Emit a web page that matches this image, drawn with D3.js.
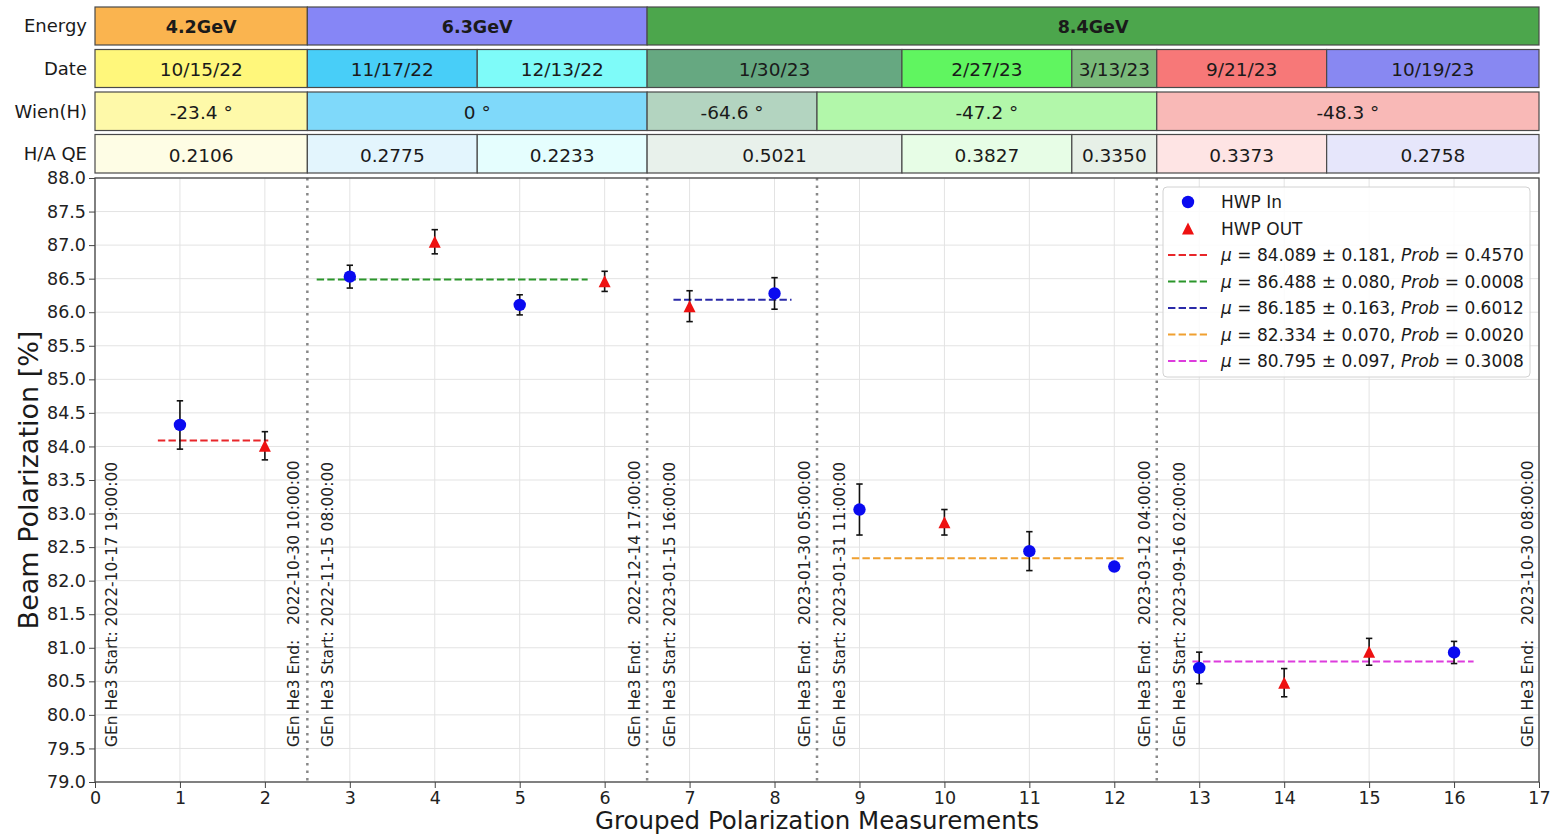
<!DOCTYPE html>
<html>
<head>
<meta charset="utf-8">
<script src="https://cdn.jsdelivr.net/npm/d3@7"></script>
<style>
  html, body { margin: 0; padding: 0; background: #ffffff; }
  svg { display: block; font-family: "DejaVu Sans", sans-serif; }
  .pre { white-space: pre; }
</style>
</head>
<body>
<svg id="chart" width="1552" height="836"></svg>
<script>
// ---------------- DATA ----------------
const groups      = [1, 2, 3, 4, 5, 6, 7, 8, 9, 10, 11, 12, 13, 14, 15, 16];
const hwpState    = ["In","Out","In","Out","In","Out","Out","In","In","Out","In","In","In","Out","Out","In"];
const polarization = [84.32, 84.01, 86.53, 87.05, 86.11, 86.46, 86.09, 86.28, 83.06, 82.87, 82.44, 82.21, 80.70, 80.48, 80.94, 80.93];
const polError     = [0.36, 0.21, 0.17, 0.18, 0.15, 0.15, 0.23, 0.235, 0.38, 0.19, 0.29, 0.05, 0.235, 0.21, 0.20, 0.165];

// fitted means per period
const fitMu     = [84.089, 86.488, 86.185, 82.334, 80.795];
const fitErr    = [0.181, 0.080, 0.163, 0.070, 0.097];
const fitProb   = [0.4570, 0.0008, 0.6012, 0.0020, 0.3008];
const fitFrom   = [0.74, 2.61, 6.81, 8.91, 12.92];
const fitTo     = [2.04, 5.80, 8.20, 12.11, 16.23];
const fitColors = ["#e8262a", "#2b962b", "#2a2aa8", "#f0a030", "#dd3cdd"];

// run period boundaries and annotations
const periodBoundaries = [2.5, 6.5, 8.5, 12.5];
const startLabels = ["GEn He3 Start: 2022-10-17 19:00:00", "GEn He3 Start: 2022-11-15 08:00:00",
                     "GEn He3 Start: 2023-01-15 16:00:00", "GEn He3 Start: 2023-01-31 11:00:00",
                     "GEn He3 Start: 2023-09-16 02:00:00"];
const startLabelX = [0.19, 2.74, 6.76, 8.76, 12.77];
const endLabels   = ["GEn He3 End:   2022-10-30 10:00:00", "GEn He3 End:   2022-12-14 17:00:00",
                     "GEn He3 End:   2023-01-30 05:00:00", "GEn He3 End:   2023-03-12 04:00:00",
                     "GEn He3 End:   2023-10-30 08:00:00"];
const endLabelX   = [2.34, 6.35, 8.35, 12.36, 16.86];

// table rows
const rowNames = ["Energy", "Date", "Wien(H)", "H/A QE"];
const energyText   = ["4.2GeV", "6.3GeV", "8.4GeV"];
const energyBounds = [0, 2.5, 6.5, 17];
const energyColors = ["#fab44f", "#8686f6", "#4ca64c"];
const dateText   = ["10/15/22", "11/17/22", "12/13/22", "1/30/23", "2/27/23", "3/13/23", "9/21/23", "10/19/23"];
const dateBounds = [0, 2.5, 4.5, 6.5, 9.5, 11.5, 12.5, 14.5, 17];
const dateColors = ["#fff77b", "#48cef8", "#7efbf9", "#66a881", "#60f560", "#7aba7a", "#f77878", "#8888f2"];
const wienText   = ["-23.4 \u00b0", "0 \u00b0", "-64.6 \u00b0", "-47.2 \u00b0", "-48.3 \u00b0"];
const wienBounds = [0, 2.5, 6.5, 8.5, 12.5, 17];
const wienColors = ["#fef9a9", "#7fd9fa", "#b3d4c0", "#b2f7aa", "#f9b9b7"];
const qeText   = ["0.2106", "0.2775", "0.2233", "0.5021", "0.3827", "0.3350", "0.3373", "0.2758"];
const qeBounds = dateBounds;
const qeColors = ["#fefde5", "#e3f5fd", "#e5fefe", "#e8f1eb", "#e7fde6", "#e7f0e7", "#fee4e4", "#e6e6fb"];

const yTicks = d3.range(79, 88.001, 0.5);
const xTicks = d3.range(0, 18, 1);

// ---------------- LAYOUT ----------------
const svg = d3.select("#chart");
const L = 95, R = 1539, T = 178, B = 782;
const x = d3.scaleLinear().domain([0, 17]).range([L, R]);
const y = d3.scaleLinear().domain([79, 88]).range([B, T]);

// ---------------- TABLE ----------------
const rowBands = [[7, 45], [49.5, 87.5], [92, 130.5], [134.5, 173]];
const tableRows = [
  {text: energyText, bounds: energyBounds, colors: energyColors, bold: true},
  {text: dateText, bounds: dateBounds, colors: dateColors},
  {text: wienText, bounds: wienBounds, colors: wienColors},
  {text: qeText, bounds: qeBounds, colors: qeColors}
];
const tableG = svg.append("g");
tableRows.forEach((row, ri) => {
  const [y0, y1] = rowBands[ri];
  const g = tableG.append("g");
  const cells = row.text.map((t, i) => ({t, a: row.bounds[i], b: row.bounds[i + 1], c: row.colors[i]}));
  g.selectAll("rect").data(cells).join("rect")
    .attr("x", d => x(d.a)).attr("y", y0)
    .attr("width", d => x(d.b) - x(d.a)).attr("height", y1 - y0)
    .attr("fill", d => d.c).attr("stroke", "#4a4a4a").attr("stroke-width", 1.2);
  g.selectAll("text").data(cells).join("text")
    .attr("x", d => (x(d.a) + x(d.b)) / 2).attr("y", (y0 + y1) / 2)
    .attr("dy", "0.42em").attr("text-anchor", "middle")
    .attr("font-size", row.bold ? 17.5 : 18.5).attr("font-weight", row.bold ? "bold" : "normal")
    .attr("fill", "#1a1a1a").text(d => d.t);
  g.append("text").attr("x", 87).attr("y", (y0 + y1) / 2).attr("dy", "0.36em")
    .attr("text-anchor", "end").attr("font-size", 18).attr("fill", "#1a1a1a")
    .text(rowNames[ri]);
});

// ---------------- GRID ----------------
const grid = svg.append("g");
grid.selectAll("line.gx").data(xTicks).join("line").attr("class", "gx")
  .attr("x1", d => x(d)).attr("x2", d => x(d)).attr("y1", T).attr("y2", B)
  .attr("stroke", "#e3e3e3").attr("stroke-width", 1);
grid.selectAll("line.gy").data(yTicks).join("line").attr("class", "gy")
  .attr("x1", L).attr("x2", R).attr("y1", d => y(d)).attr("y2", d => y(d))
  .attr("stroke", "#e3e3e3").attr("stroke-width", 1);

// period boundaries
svg.append("g").selectAll("line").data(periodBoundaries).join("line")
  .attr("x1", d => x(d)).attr("x2", d => x(d)).attr("y1", T).attr("y2", B)
  .attr("stroke", "#888").attr("stroke-width", 2.5).attr("stroke-dasharray", "2.5,5");

// rotated annotations
const annY = 747;
const ann = svg.append("g").attr("font-size", 15.5).attr("fill", "#222");
const annData = startLabels.map((t, i) => ({t, xv: startLabelX[i]}))
  .concat(endLabels.map((t, i) => ({t, xv: endLabelX[i]})));
ann.selectAll("text").data(annData).join("text")
  .attr("class", "pre")
  .attr("transform", d => `translate(${x(d.xv)},${annY}) rotate(-90)`)
  .attr("dy", "0.36em")
  .text(d => d.t);

// ---------------- AXES ----------------
const yAxis = svg.append("g").attr("transform", `translate(${L},0)`)
  .call(d3.axisLeft(y).tickValues(yTicks).tickFormat(d3.format(".1f")).tickSize(6).tickPadding(3));
const xAxis = svg.append("g").attr("transform", `translate(0,${B})`)
  .call(d3.axisBottom(x).tickValues(xTicks).tickFormat(d3.format("d")).tickSize(6).tickPadding(4));
[yAxis, xAxis].forEach(a => {
  a.selectAll("text").attr("font-size", 17.5).attr("fill", "#222").attr("font-family", "DejaVu Sans");
  a.selectAll("line").attr("stroke", "#444");
  a.select(".domain").remove();
});
// frame
svg.append("rect").attr("x", L).attr("y", T).attr("width", R - L).attr("height", B - T)
  .attr("fill", "none").attr("stroke", "#444").attr("stroke-width", 1.3);

svg.append("text").attr("x", (L + R) / 2).attr("y", 829).attr("text-anchor", "middle")
  .attr("font-size", 24.5).attr("fill", "#1a1a1a").text("Grouped Polarization Measurements");
svg.append("text").attr("transform", `translate(38,${(T + B) / 2}) rotate(-90)`)
  .attr("text-anchor", "middle").attr("font-size", 27).attr("fill", "#1a1a1a")
  .text("Beam Polarization [%]");

// ---------------- FIT LINES ----------------
const fits = fitMu.map((m, i) => ({m, a: fitFrom[i], b: fitTo[i], c: fitColors[i]}));
svg.append("g").selectAll("line").data(fits).join("line")
  .attr("x1", d => x(d.a)).attr("x2", d => x(d.b))
  .attr("y1", d => y(d.m)).attr("y2", d => y(d.m))
  .attr("stroke", d => d.c).attr("stroke-width", 2).attr("stroke-dasharray", "7.4,3.2");

// ---------------- POINTS ----------------
const pts = groups.map((g, i) => ({g, s: hwpState[i], v: polarization[i], e: polError[i]}));
const eb = svg.append("g").attr("stroke", "#111").attr("stroke-width", 1.6);
pts.forEach(d => {
  const cx = x(d.g), yt = y(d.v + d.e), yb = y(d.v - d.e);
  eb.append("line").attr("x1", cx).attr("x2", cx).attr("y1", yt).attr("y2", yb);
  eb.append("line").attr("x1", cx - 3.2).attr("x2", cx + 3.2).attr("y1", yt).attr("y2", yt);
  eb.append("line").attr("x1", cx - 3.2).attr("x2", cx + 3.2).attr("y1", yb).attr("y2", yb);
});
const triPath = (cx, cy, s) => `M${cx},${cy - s / 2}L${cx - s / 2},${cy + s / 2}L${cx + s / 2},${cy + s / 2}Z`;
const mk = svg.append("g");
mk.selectAll("circle").data(pts.filter(d => d.s === "In")).join("circle")
  .attr("cx", d => x(d.g)).attr("cy", d => y(d.v)).attr("r", 6.2).attr("fill", "#0a0af0");
mk.selectAll("path").data(pts.filter(d => d.s === "Out")).join("path")
  .attr("d", d => triPath(x(d.g), y(d.v), 12)).attr("fill", "#ee1111");

// ---------------- LEGEND ----------------
const lg = svg.append("g");
lg.append("rect").attr("x", 1163).attr("y", 187).attr("width", 367).attr("height", 190).attr("rx", 4)
  .attr("fill", "#fff").attr("fill-opacity", 0.85).attr("stroke", "#d2d2d2");
const lx = 1188, tx = 1221, ly0 = 202, dy = 26.5;
lg.append("circle").attr("cx", lx).attr("cy", ly0).attr("r", 6.2).attr("fill", "#0a0af0");
lg.append("path").attr("d", triPath(lx, ly0 + dy, 12)).attr("fill", "#ee1111");
const ltext = (yy) => lg.append("text").attr("x", tx).attr("y", yy).attr("dy", "0.36em")
  .attr("font-size", 17).attr("fill", "#1a1a1a").attr("class", "pre");
ltext(ly0).text("HWP In");
ltext(ly0 + dy).text("HWP OUT");
fits.forEach((f, i) => {
  const yy = ly0 + dy * (2 + i);
  lg.append("line").attr("x1", 1168).attr("x2", 1207).attr("y1", yy).attr("y2", yy)
    .attr("stroke", f.c).attr("stroke-width", 2).attr("stroke-dasharray", "7.4,3.2");
  const t = ltext(yy);
  t.append("tspan").attr("font-style", "italic").text("\u03bc");
  t.append("tspan").text(` = ${fitMu[i].toFixed(3)} \u00b1 ${fitErr[i].toFixed(3)}, `);
  t.append("tspan").attr("font-style", "italic").text("Prob");
  t.append("tspan").text(` = ${fitProb[i].toFixed(4)}`);
});
</script>
</body>
</html>
